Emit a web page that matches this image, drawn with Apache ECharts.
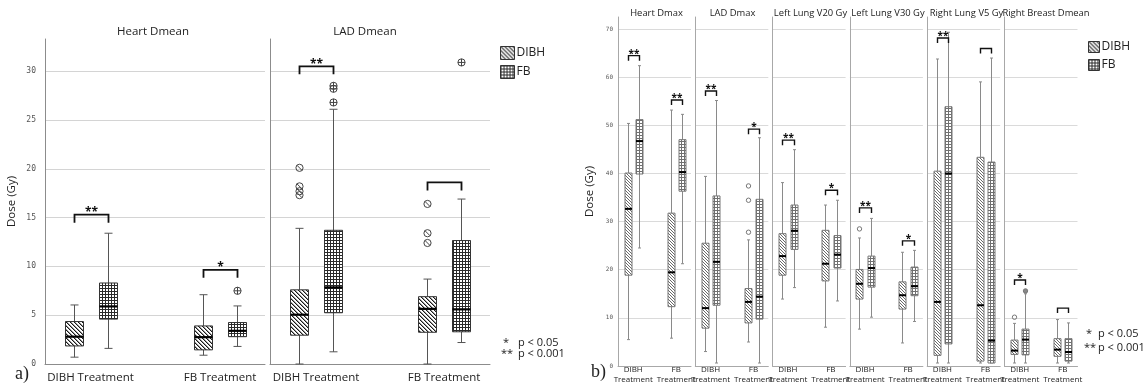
<!DOCTYPE html>
<html><head><meta charset="utf-8">
<script src="https://cdn.jsdelivr.net/npm/echarts@6/dist/echarts.min.js"></script>
<style>html,body{margin:0;padding:0;background:#fff}#c{width:1145px;height:385px}</style>
</head><body><div id="c"></div>
<script>
// ===================== DATA =====================
// box rows: [min, Q1, median, Q3, max]; index 0 = DIBH Treatment, 1 = FB Treatment
const groupsA = ['DIBH Treatment', 'FB Treatment'];
const groupsB = ['DIBH\nTreatment', 'FB\nTreatment'];
const seriesNames = ['DIBH', 'FB'];
const yTicksA = [0, 5, 10, 15, 20, 25, 30];
const yTicksB = [0, 10, 20, 30, 40, 50, 60, 70];
const titlesA = ['Heart Dmean', 'LAD Dmean'];
const titlesB = ['Heart Dmax', 'LAD Dmax', 'Left Lung V20 Gy', 'Left Lung V30 Gy', 'Right Lung V5 Gy', 'Right Breast Dmean'];

// Panel a
const heartDmeanDIBH = [[0.7, 1.85, 2.8, 4.35, 6.05], [0.9, 1.45, 2.75, 3.9, 7.1]];
const heartDmeanFB = [[1.6, 4.6, 5.9, 8.3, 13.4], [1.8, 2.8, 3.4, 4.25, 5.95]];
const heartDmeanOutDIBH = [];
const heartDmeanOutFB = [[1, 7.5]];
const heartDmeanSig = [[0, 15.3, '**'], [1, 9.65, '*']];

const ladDmeanDIBH = [[0, 2.95, 5.05, 7.6, 13.9], [0, 3.25, 5.65, 6.9, 8.7]];
const ladDmeanFB = [[1.25, 5.25, 7.85, 13.7, 26.1], [2.2, 3.3, 5.6, 12.65, 16.9]];
const ladDmeanOutDIBH = [[0, 20.1], [0, 18.2], [0, 17.7], [0, 17.3], [1, 16.4], [1, 13.4], [1, 12.4]];
const ladDmeanOutFB = [[0, 28.5], [0, 28.2], [0, 26.8], [1, 30.9]];
const ladDmeanSig = [[0, 30.5, '**'], [1, 18.6, '']];

// Panel b
const heartDmaxDIBH = [[4.9, 18.4, 32.3, 39.8, 50.2], [5.2, 11.8, 19.0, 31.4, 53.0]];
const heartDmaxFB = [[24.1, 39.6, 46.5, 51.0, 62.3], [20.8, 36.0, 40.0, 46.8, 52.1]];
const heartDmaxOutDIBH = [];
const heartDmaxOutFB = [];
const heartDmaxSig = [[0, 64.4, '**'], [1, 55.1, '**']];

const ladDmaxDIBH = [[2.4, 7.3, 11.5, 25.1, 39.1], [4.4, 8.4, 12.8, 15.6, 25.8]];
const ladDmaxFB = [[0, 12.1, 21.2, 35.0, 55.0], [0, 9.2, 13.9, 34.3, 47.2]];
const ladDmaxOutDIBH = [[1, 37.1], [1, 34.1], [1, 27.4]];
const ladDmaxOutFB = [];
const ladDmaxSig = [[0, 57.0, '**'], [1, 49.0, '*']];

const llV20DIBH = [[13.4, 18.4, 22.4, 27.1, 37.8], [7.5, 17.2, 20.8, 27.8, 33.1]];
const llV20FB = [[15.8, 23.8, 27.7, 33.1, 44.7], [13.0, 19.9, 22.7, 26.7, 34.1]];
const llV20OutDIBH = [];
const llV20OutFB = [];
const llV20Sig = [[0, 46.7, '**'], [1, 36.2, '*']];

const llV30DIBH = [[7.1, 13.4, 16.6, 19.6, 26.2], [4.2, 11.3, 14.2, 17.0, 23.2]];
const llV30FB = [[9.6, 15.9, 19.9, 22.4, 30.3], [8.7, 14.1, 16.1, 20.1, 23.6]];
const llV30OutDIBH = [[0, 28.1]];
const llV30OutFB = [];
const llV30Sig = [[0, 32.5, '**'], [1, 25.6, '*']];

const rlV5DIBH = [[0, 1.6, 12.8, 40.2, 63.7], [0, 0.4, 12.1, 43.1, 58.9]];
const rlV5FB = [[0, 4.0, 39.7, 53.7, 69.3], [0, 0, 4.7, 42.1, 63.9]];
const rlV5OutDIBH = [];
const rlV5OutFB = [];
const rlV5Sig = [[0, 68.1, '**'], [1, 65.9, '']];

const rbDmeanDIBH = [[0, 1.8, 2.6, 4.8, 8.3], [0, 1.4, 2.8, 5.1, 9.1]];
const rbDmeanFB = [[0, 1.7, 4.9, 7.1, 14.5], [0, 0.4, 2.3, 5.1, 8.4]];
const rbDmeanOutDIBH = [[0, 9.6]];
const rbDmeanOutFB = [[0, 15.1]];
const rbDmeanSig = [[0, 17.4, '*'], [1, 11.5, '']];

// ===================== STYLE / LAYOUT =====================
const FONT = 'Open Sans';
function pattern(kind, size, color, bg) {
  const cv = document.createElement('canvas');
  cv.width = size; cv.height = size;
  const g = cv.getContext('2d');
  g.fillStyle = bg; g.fillRect(0, 0, size, size);
  g.fillStyle = color;
  if (kind === 'diag') {
    for (let i = 0; i < size; i++) g.fillRect(i, i, 1, 1);
  } else if (kind === 'diag2') {
    for (let i = 0; i < size; i++) { g.fillRect(i, i, 1, 1); g.globalAlpha = 0.45; g.fillRect((i + 1) % size, i, 1, 1); g.globalAlpha = 1; }
  } else {
    g.fillRect(0, 0, size, 1); g.fillRect(0, 0, 1, size);
  }
  return { image: cv, repeat: 'repeat' };
}
const patA = { DIBH: pattern('diag2', 4, '#1a1a1a', '#fff'), FB: pattern('grid', 3, '#2a2a2a', '#fff') };
const patB = { DIBH: pattern('diag', 3, '#6a6a6a', '#fff'), FB: pattern('grid', 3, '#707070', '#fff') };

const panelA = {
  top: 39, bottom: 364, max: 33.3, ticks: yTicksA, groups: groupsA, titles: titlesA,
  frameLeft: [45, 270], frameWidth: 220, dataLeft: [25.75, 252], dataWidth: [259, 256],
  off: 17, boxW: 18, capW: 8, tick: 8, outR: 3.6, medW: 2.2,
  axisColor: '#8c8c8c', gridColor: '#d4d4d4', whisker: '#555', boxStroke: '#333', pat: patA,
  bracketW: 1.8, starSize: 12, yLabelSize: 8, yLabelMargin: 9, nameGap: 27,
  xLabel: { fontSize: 11.5, margin: 7, lineHeight: 14 },
  titleX: [153, 365], titleY: 32, titleSize: 11.5, titleFont: FONT, outStroke: '#444'
};
const panelB = {
  top: 17, bottom: 366, max: 72.5, ticks: yTicksB, groups: groupsB, titles: titlesB,
  frameLeft: [618, 695.3, 772.6, 849.9, 927.2, 1004.5], frameWidth: 73,
  dataLeft: [611.7, 689, 766.3, 843.6, 920.9, 998.2], dataWidth: [86, 86, 86, 86, 86, 86],
  off: 5.7, boxW: 7, capW: 3, tick: 5, outR: 2.2, medW: 2,
  axisColor: '#a8a8a8', gridColor: '#dadada', whisker: '#8a8a8a', boxStroke: '#777', pat: patB,
  bracketW: 1.4, starSize: 10, yLabelSize: 6, yLabelMargin: 5, nameGap: 22,
  xLabel: { fontSize: 8, margin: 2, lineHeight: 10 },
  titleX: [656.5, 732.5, 810.5, 888, 966.5, 1046], titleY: 13, titleSize: 9.4, titleFont: FONT, outStroke: '#777'
};

const subplotsA = [
  { dibh: heartDmeanDIBH, fb: heartDmeanFB, outD: heartDmeanOutDIBH, outF: heartDmeanOutFB, sig: heartDmeanSig },
  { dibh: ladDmeanDIBH, fb: ladDmeanFB, outD: ladDmeanOutDIBH, outF: ladDmeanOutFB, sig: ladDmeanSig }
];
const subplotsB = [
  { dibh: heartDmaxDIBH, fb: heartDmaxFB, outD: heartDmaxOutDIBH, outF: heartDmaxOutFB, sig: heartDmaxSig },
  { dibh: ladDmaxDIBH, fb: ladDmaxFB, outD: ladDmaxOutDIBH, outF: ladDmaxOutFB, sig: ladDmaxSig },
  { dibh: llV20DIBH, fb: llV20FB, outD: llV20OutDIBH, outF: llV20OutFB, sig: llV20Sig },
  { dibh: llV30DIBH, fb: llV30FB, outD: llV30OutDIBH, outF: llV30OutFB, sig: llV30Sig },
  { dibh: rlV5DIBH, fb: rlV5FB, outD: rlV5OutDIBH, outF: rlV5OutFB, sig: rlV5Sig },
  { dibh: rbDmeanDIBH, fb: rbDmeanFB, outD: rbDmeanOutDIBH, outF: rbDmeanOutFB, sig: rbDmeanSig }
];

// ===================== BUILD =====================
const grid = [], xAxis = [], yAxis = [], series = [], graphic = [];

function boxSeries(name, ai, rows, dx, fill, p) {
  return {
    type: 'custom', name, xAxisIndex: ai, yAxisIndex: ai, silent: true,
    itemStyle: { color: fill },
    data: rows.map((r, k) => [k].concat(r)),
    encode: { x: 0, y: [1, 2, 3, 4, 5] },
    renderItem(params, api) {
      const c = api.value(0);
      const pt = v => api.coord([c, v]);
      const pMin = pt(api.value(1)), pQ1 = pt(api.value(2)), pMed = pt(api.value(3)), pQ3 = pt(api.value(4)), pMax = pt(api.value(5));
      const x = Math.round(pMin[0] + dx) + 0.5, w = p.boxW, cw = p.capW;
      const ws = { stroke: p.whisker, lineWidth: 1 };
      return { type: 'group', children: [
        { type: 'line', shape: { x1: x, y1: pMax[1], x2: x, y2: pMin[1] }, style: ws },
        { type: 'line', shape: { x1: x - cw / 2, y1: pMax[1], x2: x + cw / 2, y2: pMax[1] }, style: ws },
        { type: 'line', shape: { x1: x - cw / 2, y1: pMin[1], x2: x + cw / 2, y2: pMin[1] }, style: ws },
        { type: 'rect', shape: { x: x - w / 2, y: pQ3[1], width: w, height: pQ1[1] - pQ3[1] }, style: { fill, stroke: p.boxStroke, lineWidth: 1 } },
        { type: 'line', shape: { x1: x - w / 2, y1: pMed[1], x2: x + w / 2, y2: pMed[1] }, style: { stroke: '#000', lineWidth: p.medW } }
      ] };
    }
  };
}
function outSeries(name, ai, pts, dx, kind, p) {
  return {
    type: 'custom', name, xAxisIndex: ai, yAxisIndex: ai, silent: true, data: pts,
    renderItem(params, api) {
      const c = api.coord([api.value(0), api.value(1)]);
      const x = Math.round(c[0] + dx) + 0.5, y = c[1], r = p.outR;
      const st = { stroke: p.outStroke, lineWidth: 1, fill: 'rgba(0,0,0,0)' };
      const ch = [{ type: 'circle', shape: { cx: x, cy: y, r }, style: kind === 'FB' && p === panelB ? { stroke: p.outStroke, fill: '#888', lineWidth: 1 } : st }];
      if (p === panelA) {
        if (kind === 'DIBH') ch.push({ type: 'line', shape: { x1: x - r * 0.7, y1: y - r * 0.7, x2: x + r * 0.7, y2: y + r * 0.7 }, style: st });
        else {
          ch.push({ type: 'line', shape: { x1: x - r, y1: y, x2: x + r, y2: y }, style: st });
          ch.push({ type: 'line', shape: { x1: x, y1: y - r, x2: x, y2: y + r }, style: st });
        }
      }
      return { type: 'group', children: ch };
    }
  };
}
function sigSeries(ai, sig, p) {
  return {
    type: 'custom', name: 'significance', xAxisIndex: ai, yAxisIndex: ai, silent: true,
    data: sig.map(s => [s[0], s[1]]),
    renderItem(params, api) {
      const c = api.coord([api.value(0), api.value(1)]);
      const x1 = Math.round(c[0] - p.off) + 0.5, x2 = Math.round(c[0] + p.off) + 0.5, y = c[1], t = p.tick;
      return { type: 'group', children: [
        { type: 'polyline', shape: { points: [[x1, y + t], [x1, y], [x2, y], [x2, y + t]] }, style: { stroke: '#111', lineWidth: p.bracketW, fill: null } },
        { type: 'text', x: (x1 + x2) / 2, y: y - 2, style: { text: sig[params.dataIndex][2], fill: '#111', fontSize: p.starSize, fontFamily: FONT, fontWeight: 'bold', textAlign: 'center', textVerticalAlign: 'middle' } }
      ] };
    }
  };
}

function addPanel(p, subs) {
  const interval = p.ticks[1] - p.ticks[0];
  subs.forEach((sp, i) => {
    const fi = grid.length;
    grid.push({ left: p.frameLeft[i], width: p.frameWidth, top: p.top, height: p.bottom - p.top });
    xAxis.push({ gridIndex: fi, type: 'value', min: 0, max: 1, axisLine: { show: true, lineStyle: { color: p.axisColor } }, axisTick: { show: false }, axisLabel: { show: false }, splitLine: { show: false } });
    yAxis.push({
      gridIndex: fi, type: 'value', min: 0, max: p.max, interval,
      axisLine: { show: true, lineStyle: { color: p.axisColor } }, axisTick: { show: false },
      axisLabel: { show: i === 0, showMaxLabel: false, margin: p.yLabelMargin, fontSize: p.yLabelSize, fontFamily: 'DejaVu Sans Mono', color: '#555',
        formatter: v => p.ticks.includes(v) ? String(v) : '' },
      splitLine: { show: true, showMaxLine: false, lineStyle: { color: p.gridColor, width: 1 } },
      name: i === 0 ? 'Dose (Gy)' : '', nameLocation: 'middle', nameGap: p.nameGap,
      nameTextStyle: { fontSize: 11.5, fontFamily: FONT, color: '#222' }
    });
    const di = grid.length;
    grid.push({ left: p.dataLeft[i], width: p.dataWidth[i], top: p.top, height: p.bottom - p.top });
    xAxis.push({ gridIndex: di, type: 'category', data: p.groups, axisLine: { show: false }, axisTick: { show: false }, splitLine: { show: false },
      axisLabel: { interval: 0, margin: p.xLabel.margin, fontSize: p.xLabel.fontSize, lineHeight: p.xLabel.lineHeight, fontFamily: FONT, color: '#222' } });
    yAxis.push({ gridIndex: di, type: 'value', min: 0, max: p.max, show: false });
    series.push(boxSeries(seriesNames[0], di, sp.dibh, -p.off, p.pat.DIBH, p));
    series.push(boxSeries(seriesNames[1], di, sp.fb, p.off, p.pat.FB, p));
    series.push(outSeries('DIBH outliers', di, sp.outD, -p.off, 'DIBH', p));
    series.push(outSeries('FB outliers', di, sp.outF, p.off, 'FB', p));
    series.push(sigSeries(di, sp.sig, p));
    graphic.push({ type: 'text', x: p.titleX[i], y: p.titleY, silent: true,
      style: { text: p.titles[i], fontSize: p.titleSize, fontFamily: p.titleFont, fill: '#222', textAlign: 'center', textVerticalAlign: 'middle' } });
  });
}
addPanel(panelA, subplotsA);
addPanel(panelB, subplotsB);

function note(x, y, t, size) {
  graphic.push({ type: 'text', x, y, silent: true, style: { text: t, fontSize: size, fontFamily: FONT, fill: '#222', textVerticalAlign: 'middle' } });
}
note(503, 343, '*', 11); note(518, 343, 'p < 0.05', 11);
note(501, 354, '**', 11); note(518, 354, 'p < 0.001', 11);
note(1086, 334, '*', 11); note(1098, 334, 'p < 0.05', 11);
note(1084, 348, '**', 11); note(1098, 348, 'p < 0.001', 11);
graphic.push({ type: 'text', x: 15, y: 374, silent: true, style: { text: 'a)', fontSize: 18, fontFamily: 'Liberation Serif', fill: '#222', textVerticalAlign: 'middle' } });
graphic.push({ type: 'text', x: 591, y: 372, silent: true, style: { text: 'b)', fontSize: 18, fontFamily: 'Liberation Serif', fill: '#222', textVerticalAlign: 'middle' } });

const legendItems = seriesNames.map(n => ({ name: n, itemStyle: { color: patA[n], borderColor: '#333', borderWidth: 1 } }));
const legend = [
  { left: 500, top: 46, orient: 'vertical', icon: 'rect', itemWidth: 14, itemHeight: 13, itemGap: 5, padding: 0, selectedMode: false,
    textStyle: { fontSize: 12, fontFamily: FONT, color: '#222', padding: [0, 0, 0, -3] }, data: legendItems },
  { left: 1088, top: 41, orient: 'vertical', icon: 'rect', itemWidth: 11, itemHeight: 11, itemGap: 6, padding: 0, selectedMode: false,
    textStyle: { fontSize: 12, fontFamily: FONT, color: '#222', padding: [0, 0, 0, -3] }, data: legendItems }
];

const chart = echarts.init(document.getElementById('c'), null, { renderer: 'canvas' });
chart.setOption({ animation: false, backgroundColor: '#fff', grid, xAxis, yAxis, series, legend, graphic, tooltip: { show: false } });
</script></body></html>
